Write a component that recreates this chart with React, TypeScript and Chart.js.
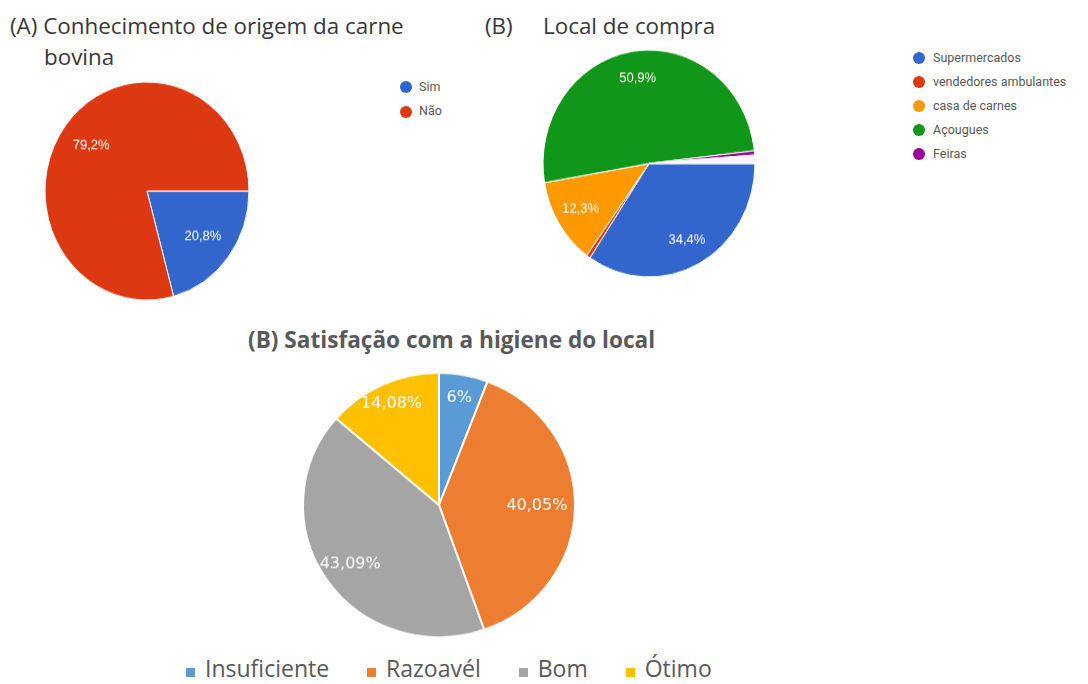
import React, { useEffect, useRef } from "react";
import { Chart, registerables } from "chart.js";

Chart.register(...registerables);

// ---------- DATA ----------
const originTitle1 = "(A) Conhecimento de origem da carne";
const originTitle2 = "bovina";
const originLabels = ["Sim", "Não"];
const originValues = [20.8, 79.2];
const originColors = ["#3366cc", "#dc3912"];

const purchaseTitleTag = "(B)";
const purchaseTitle = "Local de compra";
const purchaseLabels = ["Supermercados", "vendedores ambulantes", "casa de carnes", "Açougues", "Feiras", "Outros"];
const purchaseValues = [34.4, 0.6, 12.3, 50.9, 0.6, 1.2];
const purchaseColors = ["#3366cc", "#dc3912", "#ff9900", "#109618", "#990099", "#fbf6fb"];
const purchaseLegendLabels = ["Supermercados", "vendedores ambulantes", "casa de carnes", "Açougues", "Feiras"];

const hygieneTitle = "(B) Satisfação com a higiene do local";
const hygieneLabels = ["Insuficiente", "Razoavél", "Bom", "Ótimo"];
const hygieneValues = [6, 40.05, 43.09, 14.08];
const hygieneColors = ["#5b9bd5", "#ed7d31", "#a5a5a5", "#ffc000"];

// ---------- HELPERS ----------
const fmtPct = (v: number) => `${String(v).replace(".", ",")}%`;

const pieLabelsPlugin = {
  id: "pieLabels",
  afterDatasetsDraw(chart: any, _args: any, opts: any) {
    const meta = chart.getDatasetMeta(0);
    const data = chart.data.datasets[0].data as number[];
    const ctx = chart.ctx as CanvasRenderingContext2D;
    ctx.save();
    ctx.fillStyle = opts.color || "#fff";
    ctx.font = opts.font;
    ctx.textAlign = "center";
    ctx.textBaseline = "middle";
    meta.data.forEach((arc: any, i: number) => {
      const v = data[i];
      if (v < (opts.min || 0)) return;
      const p = arc.getProps(["x", "y", "startAngle", "endAngle", "outerRadius"], true);
      const mid = (p.startAngle + p.endAngle) / 2;
      const f = Array.isArray(opts.frac) ? opts.frac[i] : opts.frac;
      ctx.fillText(fmtPct(v), p.x + Math.cos(mid) * p.outerRadius * f, p.y + Math.sin(mid) * p.outerRadius * f);
    });
    ctx.restore();
  },
};

type PieProps = {
  labels: string[];
  values: number[];
  colors: string[];
  size: number;
  radius: number;
  left: number;
  top: number;
  scaleY: number;
  rotation: number;
  borderWidth: number;
  labelOpts: any;
};

function Pie(props: PieProps) {
  const ref = useRef<HTMLCanvasElement>(null);
  useEffect(() => {
    const chart = new Chart(ref.current as HTMLCanvasElement, {
      type: "pie",
      data: {
        labels: props.labels,
        datasets: [
          {
            data: props.values,
            backgroundColor: props.colors,
            borderColor: "#ffffff",
            borderWidth: props.borderWidth,
            radius: props.radius,
          } as any,
        ],
      },
      options: {
        responsive: false,
        animation: false,
        events: [],
        rotation: props.rotation,
        layout: { padding: 0 },
        plugins: {
          legend: { display: false },
          tooltip: { enabled: false },
          title: { display: false },
          pieLabels: props.labelOpts,
        } as any,
      },
      plugins: [pieLabelsPlugin as any],
    });
    return () => chart.destroy();
  }, []);
  return (
    <canvas
      ref={ref}
      width={props.size}
      height={props.size}
      style={{
        position: "absolute",
        left: props.left,
        top: props.top,
        width: props.size,
        height: props.size * props.scaleY,
      }}
    />
  );
}

const OS_ASC = 0.888;

function Text(p: { x: number; baseline: number; size: number; weight?: number; color: string; children: React.ReactNode }) {
  return (
    <div
      style={{
        position: "absolute",
        left: p.x,
        top: p.baseline - p.size * OS_ASC,
        fontFamily: '"Open Sans", sans-serif',
        fontSize: p.size,
        lineHeight: `${p.size}px`,
        fontWeight: p.weight || 400,
        color: p.color,
        whiteSpace: "nowrap",
      }}
    >
      {p.children}
    </div>
  );
}

function DotLegend(p: { labels: string[]; colors: string[]; left: number; top: number; rowH: number; gap: number }) {
  return (
    <div style={{ position: "absolute", left: p.left, top: p.top, fontFamily: "Roboto, sans-serif", fontSize: 12.5, color: "#5a5a5a" }}>
      {p.labels.map((l, i) => (
        <div key={l} style={{ display: "flex", alignItems: "center", height: p.rowH, whiteSpace: "nowrap" }}>
          <span style={{ display: "inline-block", width: 12, height: 12, borderRadius: "50%", background: p.colors[i], marginRight: p.gap }} />
          <span style={{ lineHeight: `${p.rowH}px` }}>{l}</span>
        </div>
      ))}
    </div>
  );
}

export default function App() {
  return (
    <div
      style={{
        position: "absolute",
        left: 0,
        top: 0,
        width: 1088,
        height: 684,
        background: "#ffffff",
        overflow: "hidden",
      }}
    >
      {/* Panel A */}
      <Text x={10} baseline={35} size={22.4} color="#383838">{originTitle1}</Text>
      <Text x={44} baseline={66} size={22.4} color="#383838">{originTitle2}</Text>
      <Pie
        labels={originLabels}
        values={originValues}
        colors={originColors}
        size={230}
        radius={102}
        left={32}
        top={68.1}
        scaleY={1.0686}
        rotation={90}
        borderWidth={1}
        labelOpts={{ font: '13px "Liberation Sans"', color: "#ffffff", frac: 0.69, min: 5 }}
      />
      <DotLegend labels={originLabels} colors={originColors} left={400} top={74.75} rowH={24.5} gap={7} />

      {/* Panel B */}
      <Text x={485} baseline={35} size={22.4} color="#383838">{purchaseTitleTag}</Text>
      <Text x={543} baseline={35} size={22.4} color="#383838">{purchaseTitle}</Text>
      <Pie
        labels={purchaseLabels}
        values={purchaseValues}
        colors={purchaseColors}
        size={240}
        radius={106}
        left={529}
        top={35}
        scaleY={1.0708}
        rotation={90}
        borderWidth={1}
        labelOpts={{ font: '13px "Liberation Sans"', color: "#ffffff", frac: 0.76, min: 5 }}
      />
      <DotLegend labels={purchaseLegendLabels} colors={purchaseColors} left={913} top={46} rowH={23.9} gap={8} />

      {/* Panel C */}
      <Text x={248} baseline={349} size={22.6} weight={700} color="#595959">{hygieneTitle}</Text>
      <Pie
        labels={hygieneLabels}
        values={hygieneValues}
        colors={hygieneColors}
        size={290}
        radius={136}
        left={294}
        top={364.3}
        scaleY={0.97}
        rotation={0}
        borderWidth={2}
        labelOpts={{ font: '16px "DejaVu Sans"', color: "#ffffff", frac: [0.82, 0.72, 0.79, 0.84], min: 0 }}
      />
      <div
        style={{
          position: "absolute",
          left: 186,
          top: 677 - 23 * OS_ASC,
          display: "flex",
          alignItems: "baseline",
          gap: 38,
          fontFamily: '"Open Sans", sans-serif',
          fontSize: 23,
          lineHeight: "23px",
          color: "#595959",
          whiteSpace: "nowrap",
        }}
      >
        {hygieneLabels.map((l, i) => (
          <div key={l} style={{ display: "flex", alignItems: "baseline" }}>
            <span style={{ display: "inline-block", width: 9, height: 9, background: hygieneColors[i], marginRight: 10 }} />
            <span>{l}</span>
          </div>
        ))}
      </div>
    </div>
  );
}
